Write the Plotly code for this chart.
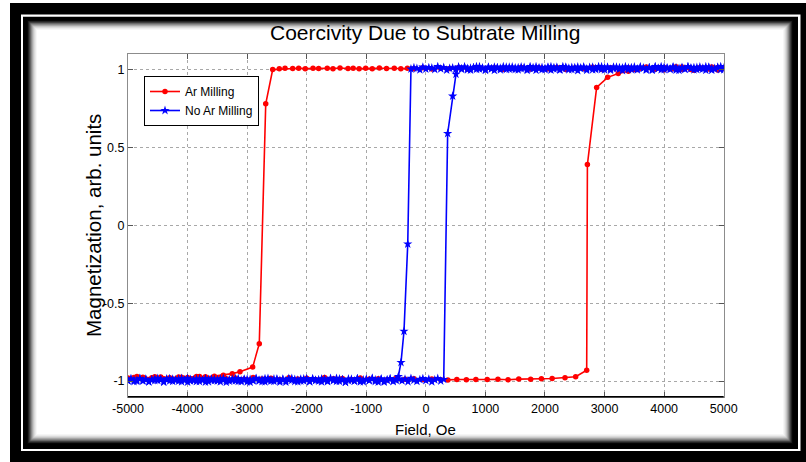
import plotly.graph_objects as go

# ---------------------------------------------------------------- data
# Ar-milled sample: descending branch (+5000 -> -5000 Oe) then ascending branch
AR_DESC_FIELD = [5000, 4900, 4800, 4700, 4600, 4500, 4400, 4300, 4200, 4100, 4000, 3900,
                 3800, 3700, 3600, 3500, 3400, 3250, 3100, 2950, 2800, 2650, 2500, 2350,
                 2200, 2050, 1900, 1750, 1600, 1450, 1300, 1150, 1000, 850, 700, 550, 400,
                 250, 100, -50, -200, -310, -420, -530, -660, -780, -900, -1010, -1120,
                 -1220, -1307, -1441, -1559, -1655, -1800, -1894, -2024, -2135, -2235,
                 -2364, -2460, -2571, -2688, -2796, -2907, -3120, -3250, -3400, -3550,
                 -3700, -3850, -4000, -4150, -4300, -4450, -4600, -4750, -4900, -5000]
AR_DESC_MAG = [1.012, 0.998, 1.016, 1.004, 1.009, 0.996, 1.014, 1.002, 1.018, 1.006, 0.999, 1.013,
               1.003, 1.017, 1.008, 1.000, 1.011, 1.005, 1.012, 1.002, 1.015, 1.007, 1.010, 1.001,
               1.013, 1.006, 1.011, 1.003, 1.014, 1.008, 1.002, 1.012, 1.006, 1.010, 1.004, 1.013, 1.007,
               1.009, 1.003, 1.011, 1.006, 1.008, 1.005, 1.009, 1.007, 1.010, 1.006, 1.008, 1.005,
               1.009, 1.007, 1.010, 1.006, 1.009, 1.007, 1.008, 1.006, 1.009, 1.007,
               1.008, 1.005, 1.000, 0.78, -0.76, -0.91, -0.94, -0.952, -0.962, -0.968,
               -0.972, -0.970, -0.976, -0.973, -0.978, -0.974, -0.979, -0.975, -0.977, -0.980]

AR_ASC_FIELD = [-5000, -4850, -4700, -4550, -4400, -4250, -4100, -3950, -3800, -3650, -3500,
                -3350, -3200, -3050, -2900, -2750, -2600, -2450, -2300, -2150, -2000, -1850,
                -1700, -1550, -1400, -1250, -1100, -950, -800, -650, -500, -350, -200, -50,
                100, 250, 370, 520, 680, 840, 1030, 1210, 1380, 1560, 1760, 1940, 2120, 2336,
                2515, 2700, 2712, 2867, 3052, 3230, 3400, 3550, 3700, 3850, 4000, 4150, 4300,
                4450, 4600, 4750, 4900, 5000]
AR_ASC_MAG = [-0.985, -0.970, -0.988, -0.972, -0.984, -0.990, -0.975, -0.986, -0.971, -0.989, -0.978,
              -0.985, -0.980, -0.988, -0.976, -0.987, -0.982, -0.990, -0.979, -0.986, -0.981, -0.989,
              -0.977, -0.985, -0.983, -0.990, -0.980, -0.987, -0.984, -0.991, -0.982, -0.988, -0.985, -0.990,
              -0.986, -0.991, -0.992, -0.990, -0.991, -0.989, -0.990, -0.988, -0.991, -0.987, -0.988, -0.985, -0.983, -0.978,
              -0.972, -0.93, 0.39, 0.885, 0.95, 0.975, 0.99, 1.000, 1.008, 1.002, 1.013, 1.005, 1.016,
              1.001, 1.011, 1.004, 1.014, 1.007]

# Unmilled sample: descending branch
NO_DESC_FIELD = [5000, 4950, 4900, 4850, 4800, 4750, 4700, 4650, 4600, 4550,
                 4500, 4450, 4400, 4350, 4300, 4250, 4200, 4150, 4100, 4050,
                 4000, 3950, 3900, 3850, 3800, 3750, 3700, 3650, 3600, 3550,
                 3500, 3450, 3400, 3350, 3300, 3250, 3200, 3150, 3100, 3050,
                 3000, 2950, 2900, 2850, 2800, 2750, 2700, 2650, 2600, 2550,
                 2500, 2450, 2400, 2350, 2300, 2250, 2200, 2150, 2100, 2050,
                 2000, 1950, 1900, 1850, 1800, 1750, 1700, 1650, 1600, 1550,
                 1500, 1450, 1400, 1350, 1300, 1250, 1200, 1150, 1100, 1050,
                 1000, 950, 900, 850, 800, 750, 700, 650, 600, 550,
                 500, 450, 400, 350, 300, 250, 200, 150, 100, 50,
                 0, -50, -100, -150, -200, -250,
                 -304, -367, -417, -462,
                 -500, -550, -600, -650, -700, -750, -800, -850, -900, -950,
                 -1000, -1050, -1100, -1150, -1200, -1250, -1300, -1350, -1400, -1450,
                 -1500, -1550, -1600, -1650, -1700, -1750, -1800, -1850, -1900, -1950,
                 -2000, -2050, -2100, -2150, -2200, -2250, -2300, -2350, -2400, -2450,
                 -2500, -2550, -2600, -2650, -2700, -2750, -2800, -2850, -2900, -2950,
                 -3000, -3050, -3100, -3150, -3200, -3250, -3300, -3350, -3400, -3450,
                 -3500, -3550, -3600, -3650, -3700, -3750, -3800, -3850, -3900, -3950,
                 -4000, -4050, -4100, -4150, -4200, -4250, -4300, -4350, -4400, -4450,
                 -4500, -4550, -4600, -4650, -4700, -4750, -4800, -4850, -4900, -4950,
                 -5000]
NO_DESC_MAG = [1.010, 1.000, 1.015, 1.007, 0.996, 1.013, 1.018, 1.003, 1.006, 1.014,
               0.998, 1.011, 1.017, 1.004, 1.009, 0.995, 1.012, 1.016, 1.001, 1.008,
               1.015, 0.999, 1.007, 1.019, 1.002, 1.012, 0.997, 1.009, 1.014, 1.005,
               1.017, 1.000, 1.010, 1.006, 0.994, 1.013, 1.008, 1.016, 1.003, 1.011,
               0.998, 1.018, 1.007, 1.001, 1.015, 1.009, 0.996, 1.012, 1.006, 1.017,
               1.004, 1.014, 0.999, 1.010, 1.019, 1.002, 1.007, 1.013, 0.997, 1.016,
               1.008, 1.000, 1.011, 1.018, 1.005, 1.009, 0.995, 1.014, 1.006, 1.012,
               1.001, 1.017, 1.003, 1.015, 1.008, 0.998, 1.010, 1.016, 1.004, 1.013,
               0.996, 1.007, 1.018, 1.002, 1.012, 1.009, 0.999, 1.015, 1.006, 1.017,
               1.000, 1.011, 1.008, 0.997, 1.014, 1.005, 1.019, 1.001, 1.010, 1.013,
               1.003, 1.016, 0.998, 1.007, 1.012, 1.004,
               -0.12, -0.68, -0.88, -0.97,
               -0.990, -1.002, -0.985, -0.995, -0.999, -0.987, -1.006, -0.992, -0.983, -0.997,
               -0.989, -1.004, -0.994, -0.984, -1.000, -0.988, -0.996, -1.007, -0.991, -0.986,
               -1.001, -0.993, -0.982, -0.998, -0.987, -1.005, -0.990, -0.995, -0.984, -1.002,
               -0.992, -0.985, -0.999, -1.004, -0.989, -0.994, -0.983, -0.997, -0.988, -1.006,
               -0.991, -0.986, -1.000, -0.995, -0.984, -1.003, -0.993, -0.982, -0.998, -0.989,
               -1.005, -0.987, -0.994, -1.001, -0.983, -0.996, -0.990, -1.007, -0.992, -0.985,
               -0.999, -0.988, -0.995, -1.004, -0.984, -0.993, -1.002, -0.986, -0.997, -0.989,
               -1.006, -0.991, -0.983, -1.000, -0.994, -0.987, -0.998, -0.985, -1.003, -0.992,
               -0.982, -0.996, -0.990, -1.005, -0.988, -0.995, -0.984, -1.001, -0.993, -0.986,
               -0.998]

# Unmilled sample: ascending branch
NO_ASC_FIELD = [-5000, -4950, -4900, -4850, -4800, -4750, -4700, -4650, -4600, -4550,
                -4500, -4450, -4400, -4350, -4300, -4250, -4200, -4150, -4100, -4050,
                -4000, -3950, -3900, -3850, -3800, -3750, -3700, -3650, -3600, -3550,
                -3500, -3450, -3400, -3350, -3300, -3250, -3200, -3150, -3100, -3050,
                -3000, -2950, -2900, -2850, -2800, -2750, -2700, -2650, -2600, -2550,
                -2500, -2450, -2400, -2350, -2300, -2250, -2200, -2150, -2100, -2050,
                -2000, -1950, -1900, -1850, -1800, -1750, -1700, -1650, -1600, -1550,
                -1500, -1450, -1400, -1350, -1300, -1250, -1200, -1150, -1100, -1050,
                -1000, -950, -900, -850, -800, -750, -700, -650, -600, -550,
                -500, -450, -400, -350, -300, -250, -200, -150, -100, -50,
                0, 50, 100, 150, 200, 250, 300,
                366, 450, 506,
                550, 600, 650, 700, 750, 800, 850, 900, 950, 1000,
                1050, 1100, 1150, 1200, 1250, 1300, 1350, 1400, 1450, 1500,
                1550, 1600, 1650, 1700, 1750, 1800, 1850, 1900, 1950, 2000,
                2050, 2100, 2150, 2200, 2250, 2300, 2350, 2400, 2450, 2500,
                2550, 2600, 2650, 2700, 2750, 2800, 2850, 2900, 2950, 3000,
                3050, 3100, 3150, 3200, 3250, 3300, 3350, 3400, 3450, 3500,
                3550, 3600, 3650, 3700, 3750, 3800, 3850, 3900, 3950, 4000,
                4050, 4100, 4150, 4200, 4250, 4300, 4350, 4400, 4450, 4500,
                4550, 4600, 4650, 4700, 4750, 4800, 4850, 4900, 4950, 5000]
NO_ASC_MAG = [-0.998, -0.986, -1.003, -0.993, -0.983, -1.000, -0.989, -1.005, -0.994, -0.985,
              -0.996, -0.988, -1.007, -0.991, -0.984, -1.001, -0.992, -0.987, -1.004, -0.995,
              -0.982, -0.999, -0.990, -1.002, -0.986, -0.993, -1.006, -0.989, -0.985, -0.997,
              -0.991, -1.004, -0.983, -0.994, -1.000, -0.987, -0.998, -0.984, -1.003, -0.992,
              -0.988, -1.007, -0.995, -0.985, -0.999, -0.990, -1.005, -0.982, -0.993, -1.001,
              -0.986, -0.996, -0.989, -1.006, -0.992, -0.983, -1.002, -0.994, -0.987, -0.998,
              -0.984, -1.004, -0.991, -0.995, -1.000, -0.985, -0.993, -1.003, -0.988, -0.997,
              -0.982, -1.001, -0.990, -1.007, -0.986, -0.994, -0.999, -0.984, -1.005, -0.992,
              -0.989, -0.996, -0.983, -1.002, -0.993, -0.987, -1.006, -0.991, -0.985, -1.000,
              -0.995, -0.986, -0.998, -0.988, -1.004, -0.982, -0.994, -1.001, -0.990, -0.984,
              -0.997, -0.987, -1.005, -0.992, -0.983, -0.999, -0.989,
              0.59, 0.83, 0.97,
              1.014, 1.002, 1.017, 1.007, 0.997, 1.012, 1.019, 1.004, 1.010, 0.999,
              1.016, 1.006, 0.995, 1.013, 1.009, 1.018, 1.001, 1.015, 1.005, 1.011,
              0.998, 1.017, 1.008, 1.003, 1.019, 1.012, 0.996, 1.007, 1.014, 1.000,
              1.010, 1.018, 1.004, 1.015, 0.997, 1.006, 1.016, 1.009, 1.001, 1.013,
              0.994, 1.011, 1.017, 1.005, 1.014, 0.999, 1.008, 1.019, 1.002, 1.012,
              1.016, 0.996, 1.007, 1.015, 1.003, 1.010, 1.018, 1.000, 1.013, 1.006,
              0.998, 1.017, 1.009, 1.004, 1.012, 0.995, 1.015, 1.007, 1.019, 1.001,
              1.011, 1.005, 1.016, 0.997, 1.008, 1.014, 1.002, 1.018, 1.006, 1.013,
              1.000, 1.017, 1.009, 0.996, 1.015, 1.007, 1.003, 1.012, 1.019, 0.999]

X_TICKS = [-5000, -4000, -3000, -2000, -1000, 0, 1000, 2000, 3000, 4000, 5000]
X_TICK_TEXT = ["-5000", "-4000", "-3000", "-2000", "-1000", "0",
               "1000", "2000", "3000", "4000", "5000"]
Y_TICKS = [-1, -0.5, 0, 0.5, 1]
Y_TICK_TEXT = ["-1", "-0.5", "0", "0.5", "1"]

TITLE = "Coercivity Due to Subtrate Milling"
X_LABEL = "Field, Oe"
Y_LABEL = "Magnetization, arb. units"

# ---------------------------------------------------------------- styling helpers
W, H = 806, 462
FONT = "Liberation Sans, Arial, Helvetica, sans-serif"


def px_x(v):
    return v / W


def px_y(v):
    return 1 - v / H


def frame_rect(x0, y0, x1, y1, color):
    return dict(type="rect", xref="paper", yref="paper", layer="below",
                x0=px_x(x0), x1=px_x(x1), y0=px_y(y1), y1=px_y(y0),
                fillcolor=color, line=dict(width=0))


shapes = [
    frame_rect(10, 3, 806, 462, "#000000"),
    frame_rect(21, 14.5, 800.5, 451, "#ffffff"),
    frame_rect(23, 16.8, 798, 449, "#000000"),
]
# soft inner shadow fading from the black frame into the white page
shadow = ["#050505", "#1c1c1c", "#383838", "#585858", "#7a7a7a", "#9a9a9a",
          "#b6b6b6", "#cdcdcd", "#dfdfdf", "#ececec", "#f6f6f6", "#ffffff"]
left, top, right, bottom = 27, 20, 793, 444
for i, c in enumerate(shadow):
    shapes.append(frame_rect(left + i * 0.9, top + i * 0.9, right - i * 0.9, bottom - i * 0.9, c))

# black bottom spine of the axes box
shapes.append(dict(type="line", xref="x domain", yref="y domain", x0=0, x1=1, y0=0, y1=0,
                   line=dict(color="#000000", width=1.5), layer="above"))

fig = go.Figure()

fig.add_trace(go.Scatter(
    x=AR_DESC_FIELD + AR_ASC_FIELD, y=AR_DESC_MAG + AR_ASC_MAG,
    mode="lines+markers", name="Ar Milling",
    line=dict(color="#ff0000", width=1.6),
    marker=dict(symbol="circle", size=5.5, color="#ff0000"),
))
fig.add_trace(go.Scatter(
    x=NO_DESC_FIELD + NO_ASC_FIELD, y=NO_DESC_MAG + NO_ASC_MAG,
    mode="lines+markers", name="No Ar Milling",
    line=dict(color="#0000ff", width=1.6),
    marker=dict(symbol="star", size=7, color="#0000ff"),
))

axis_common = dict(
    showline=True, linecolor="#8c8c8c", linewidth=1, mirror="ticks",
    ticks="inside", ticklen=5, tickcolor="#555555", tickwidth=1,
    showgrid=True, gridcolor="#a8a8a8", griddash="dot", gridwidth=1,
    zeroline=False, automargin=False,
    tickfont=dict(family=FONT, size=12.5, color="#000000"),
)

fig.update_layout(
    width=W, height=H, autosize=False,
    margin=dict(l=0, r=0, t=0, b=0, pad=0, autoexpand=False),
    paper_bgcolor="#ffffff", plot_bgcolor="#ffffff",
    showlegend=True,
    legend=dict(x=px_x(144), y=px_y(76), xanchor="left", yanchor="top",
                bgcolor="#ffffff", bordercolor="#000000", borderwidth=1,
                font=dict(family=FONT, size=12, color="#000000"),
                itemwidth=30, tracegroupgap=0),
    xaxis=dict(domain=[px_x(128), px_x(723.7)], range=[-5000, 5000],
               tickvals=X_TICKS, ticktext=X_TICK_TEXT, ticklabelstandoff=0, **axis_common),
    yaxis=dict(domain=[px_y(396.7), px_y(54)], range=[-1.1, 1.1],
               tickvals=Y_TICKS, ticktext=Y_TICK_TEXT, ticklabelstandoff=0, **axis_common),
    shapes=shapes,
    annotations=[
        dict(text=TITLE, xref="paper", yref="paper", x=px_x(425.5), y=px_y(33),
             xanchor="center", yanchor="middle", showarrow=False,
             font=dict(family=FONT, size=21, color="#000000")),
        dict(text=X_LABEL, xref="paper", yref="paper", x=px_x(425.5), y=px_y(429),
             xanchor="center", yanchor="middle", showarrow=False,
             font=dict(family=FONT, size=15, color="#000000")),
        dict(text=Y_LABEL, xref="paper", yref="paper", x=px_x(93), y=px_y(226),
             xanchor="center", yanchor="middle", showarrow=False, textangle=-90,
             font=dict(family=FONT, size=20.5, color="#000000")),
    ],
)

fig.write_html("out.html", config={"responsive": False})
